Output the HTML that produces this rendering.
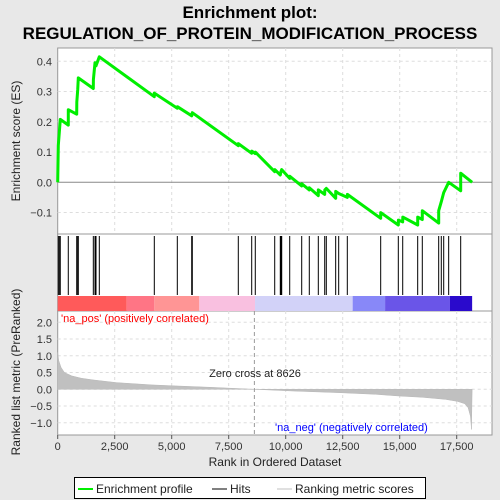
<!DOCTYPE html>
<html><head><meta charset="utf-8"><style>
body{margin:0;background:#e8e8e8;font-family:"Liberation Sans",sans-serif;}
svg{display:block}
</style></head><body>
<svg id="c" width="500" height="500" xmlns="http://www.w3.org/2000/svg">
<rect x="0" y="0" width="500" height="500" fill="#e8e8e8"/>
<text x="250" y="18" text-anchor="middle" font-size="17" font-weight="bold" fill="#000">Enrichment plot:</text>
<text x="250" y="39" text-anchor="middle" font-size="17" font-weight="bold" fill="#000">REGULATION_OF_PROTEIN_MODIFICATION_PROCESS</text>
<g id="g"></g>
</svg>
<script>
const hitRanks=[27,70,113,464,834,877,904,1562,1636,1680,1825,4237,5246,5877,5904,7921,8509,8666,9518,9763,9794,9825,10176,10702,11035,11430,11711,11781,12192,12324,12702,14166,14939,15132,15789,15991,16710,16824,16930,17148,17675];
const esRanks=[0,27,70,113,464,466,834,836,877,904,1562,1564,1636,1680,1825,4237,4239,5246,5248,5877,5904,7921,7923,8509,8511,8666,8668,9518,9520,9763,9794,9825,10176,10178,10702,10704,11035,11037,11430,11432,11711,11713,11781,12192,12194,12324,12702,12704,14166,14168,14939,14941,15132,15134,15789,15791,15991,15993,16710,16712,16824,16930,17148,17675,17677,18177];
const esValues=[0,0.122,0.165,0.208,0.189,0.24,0.225,0.265,0.305,0.345,0.31,0.34,0.395,0.385,0.415,0.283,0.295,0.245,0.25,0.22,0.23,0.121,0.128,0.096,0.103,0.095,0.1,0.035,0.042,0.024,0.036,0.042,0.013,0.02,-0.012,-0.005,-0.025,-0.018,-0.044,-0.025,-0.04,-0.025,-0.02,-0.053,-0.03,-0.037,-0.05,-0.04,-0.119,-0.1,-0.141,-0.125,-0.131,-0.115,-0.141,-0.115,-0.123,-0.094,-0.135,-0.094,-0.064,-0.034,0.0,-0.028,0.03,0];
const metricRanks=[0,50,150,300,620,1030,1550,2580,4130,5160,6700,8626,10300,12380,13930,14960,16000,17020,17540,17850,18000,18100,18150];
const metricValues=[1.1,0.85,0.65,0.5,0.4,0.33,0.28,0.2,0.13,0.1,0.06,0,-0.05,-0.1,-0.15,-0.2,-0.24,-0.3,-0.36,-0.43,-0.55,-0.8,-1.2];
const xTicks=[0,2500,5000,7500,10000,12500,15000,17500];
const xTickLabels=["0","2,500","5,000","7,500","10,000","12,500","15,000","17,500"];
const esTicks=[-0.1,0,0.1,0.2,0.3,0.4];
const esTickLabels=["−0.1","0.0","0.1","0.2","0.3","0.4"];
const mTicks=[-1,-0.5,0,0.5,1,1.5,2];
const mTickLabels=["−1.0","−0.5","0.0","0.5","1.0","1.5","2.0"];
const barStarts=[0,3028,4238,6211,8655,12937,14359,17205];
const barEnds=[3028,4238,6211,8655,12937,14359,17205,18177];
const barColors=["#ff5a5a","#ff7585","#ff9595","#f9c0e0","#d2d2f8","#8888f8","#6a55e8","#2a0acc"];

const L=57.7,R=492,N=18177;
const X=r=>L+r*0.0228;
const yES=v=>182.3-v*302.5;
const yM=v=>389.3-v*33.5;
const g=document.getElementById('g');
const NS='http://www.w3.org/2000/svg';
function mk(t,a,p){const e=document.createElementNS(NS,t);for(const k in a)e.setAttribute(k,a[k]);(p||g).appendChild(e);return e;}

let e=mk('rect',{x:L,y:48,width:R-L,height:186,fill:'#fff',stroke:'#999'});


e=mk('rect',{x:L,y:234,width:R-L,height:77,fill:'#fff',stroke:'#999'});


e=mk('rect',{x:L,y:311,width:R-L,height:124,fill:'#fff',stroke:'#999'});



xTicks.forEach((t,i)=>{
 if(i>0){
 e=mk('line',{x1:X(t),x2:X(t),y1:48,y2:234,stroke:'#ddd','stroke-dasharray':'3,3'});
 
 
 e=mk('line',{x1:X(t),x2:X(t),y1:311,y2:435,stroke:'#ddd','stroke-dasharray':'3,3'});
 
 }
 e=mk('line',{x1:X(t),x2:X(t),y1:435,y2:439,stroke:'#555'});
 
 
 e=mk('text',{x:X(t),y:450,'text-anchor':'middle','font-size':11,fill:'#333'});
 e.textContent=xTickLabels[i];
 
 
});
esTicks.forEach((t,i)=>{
 e=mk('line',{x1:L,x2:R,y1:yES(t),y2:yES(t),stroke:t===0?'#888':'#ddd','stroke-dasharray':t===0?'':'3,3'});
 
 
 e=mk('text',{x:52,y:yES(t)+4,'text-anchor':'end','font-size':11,fill:'#333'});
 e.textContent=esTickLabels[i];
 
 
});
mTicks.forEach((t,i)=>{
 e=mk('line',{x1:L,x2:R,y1:yM(t),y2:yM(t),stroke:'#ddd','stroke-dasharray':'3,3'});
 
 
 e=mk('text',{x:52,y:yM(t)+4,'text-anchor':'end','font-size':11,fill:'#333'});
 e.textContent=mTickLabels[i];
 
 
});

let d=esRanks.map((r,i)=>(i?'L':'M')+X(r).toFixed(1)+','+yES(esValues[i]).toFixed(1)).join('');
e=mk('path',{d:d,fill:'none',stroke:'#00ee00','stroke-width':3,'stroke-linejoin':'round'});



hitRanks.forEach(r=>{
 e=mk('line',{x1:X(r),x2:X(r),y1:236,y2:295,stroke:'#000','stroke-width':1});
 
 
});

barStarts.forEach((s,i)=>{
 e=mk('rect',{x:X(s),y:296,width:X(barEnds[i])-X(s),height:15,fill:barColors[i]});
 
 
});

d='M'+X(0)+','+yM(0)+metricRanks.map((r,i)=>'L'+X(r).toFixed(1)+','+yM(metricValues[i]).toFixed(1)).join('')+'L'+X(N)+','+yM(0)+'Z';
e=mk('path',{d:d,fill:'#c0c0c0',stroke:'#b8b8b8','stroke-width':0.5});



e=mk('line',{x1:X(8626),x2:X(8626),y1:311,y2:435,stroke:'#999','stroke-dasharray':'4,3'});


e=mk('text',{x:255,y:377,'text-anchor':'middle','font-size':11,fill:'#222'});
e.textContent='Zero cross at 8626';


e=mk('text',{x:61,y:322,'font-size':11,fill:'#ff0000'});
e.textContent="'na_pos' (positively correlated)";


e=mk('text',{x:275,y:431,'font-size':11,fill:'#0000ff'});
e.textContent="'na_neg' (negatively correlated)";



e=mk('text',{x:0,y:0,'text-anchor':'middle','font-size':12,fill:'#222',transform:'translate(20,141) rotate(-90)'});
e.textContent='Enrichment score (ES)';


e=mk('text',{x:0,y:0,'text-anchor':'middle','font-size':12,fill:'#222',transform:'translate(20,372) rotate(-90)'});
e.textContent='Ranked list metric (PreRanked)';


e=mk('text',{x:275,y:466,'text-anchor':'middle','font-size':12,fill:'#222'});
e.textContent='Rank in Ordered Dataset';



e=mk('rect',{x:74.5,y:477.5,width:351,height:21,fill:'#fff',stroke:'#000'});


e=mk('line',{x1:78,x2:93,y1:489,y2:489,stroke:'#00ee00','stroke-width':2});


e=mk('text',{x:96,y:493,'font-size':12,fill:'#222'});
e.textContent='Enrichment profile';


e=mk('line',{x1:212,x2:227,y1:489,y2:489,stroke:'#000','stroke-width':1});


e=mk('text',{x:230,y:493,'font-size':12,fill:'#222'});
e.textContent='Hits';


e=mk('line',{x1:277,x2:292,y1:489,y2:489,stroke:'#c0c0c0','stroke-width':1});


e=mk('text',{x:295,y:493,'font-size':12,fill:'#222'});
e.textContent='Ranking metric scores';


</script>
</body></html>
